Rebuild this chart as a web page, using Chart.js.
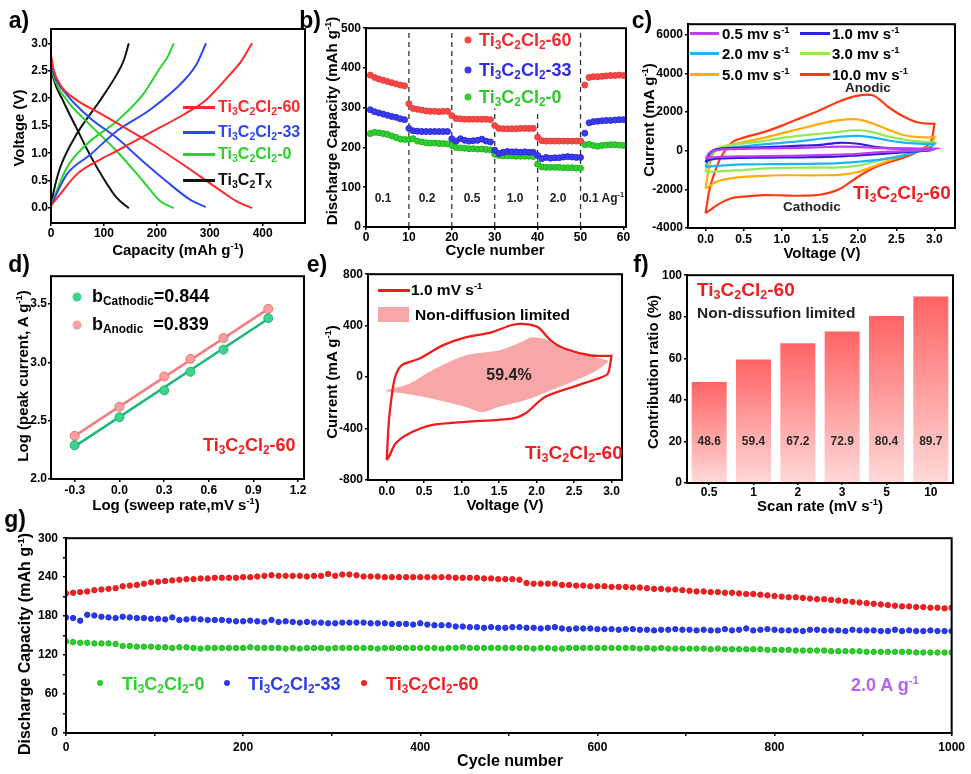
<!DOCTYPE html>
<html>
<head>
<meta charset="utf-8">
<script src="https://cdn.jsdelivr.net/npm/chart.js@4.4.1/dist/chart.umd.min.js"></script>
<style>
body{margin:0;background:#fff;width:971px;height:774px;position:relative;overflow:hidden;font-family:"Liberation Sans",Arial,sans-serif;font-weight:bold;color:#000;}
canvas{position:absolute;}
.l{position:absolute;white-space:nowrap;line-height:1;transform:translateY(-50%);}
.c{position:absolute;white-space:nowrap;line-height:1;transform:translate(-50%,-50%);}
.yt{position:absolute;white-space:nowrap;line-height:1;transform:translate(-50%,-50%) rotate(-90deg);font-size:15px;}
.xt{position:absolute;white-space:nowrap;line-height:1;transform:translate(-50%,-50%);font-size:15px;}
.pl{position:absolute;white-space:nowrap;line-height:1;transform:translate(-50%,-50%);font-size:23px;}
.ln{position:absolute;height:2.5px;}
.dot{position:absolute;border-radius:50%;transform:translate(-50%,-50%);}
sub{font-size:66%;vertical-align:-0.28em;line-height:0;}
sup{font-size:62%;vertical-align:0.62em;line-height:0;}
</style>
</head>
<body>
<script>
// ---------- a) charge / discharge curves ----------
const cap60d = [0, 5, 17, 48, 92, 124, 187, 250, 313, 350, 380];
const volt60d = [2.79, 2.52, 2.25, 1.97, 1.73, 1.55, 1.19, 0.79, 0.37, 0.13, 0.0];
const cap60c = [0, 17, 48, 92, 124, 187, 250, 293, 338, 360, 380];
const volt60c = [0.05, 0.25, 0.61, 0.88, 1.04, 1.37, 1.70, 1.97, 2.43, 2.68, 3.0];
const cap33d = [0, 5, 29.5, 73.6, 124, 174, 218, 262, 292];
const volt33d = [2.67, 2.45, 2.07, 1.64, 1.28, 0.85, 0.49, 0.16, 0.02];
const cap33c = [0, 29.5, 74, 124, 187, 250, 275, 293];
const volt33c = [0.05, 0.61, 0.97, 1.40, 1.79, 2.31, 2.62, 3.0];
const cap0d = [0, 5, 29.5, 67, 124, 174, 206, 232];
const volt0d = [2.64, 2.40, 1.97, 1.58, 1.04, 0.49, 0.13, 0.0];
const cap0c = [0, 29.5, 67, 124, 174, 206, 222, 232];
const volt0c = [0.05, 0.73, 1.16, 1.58, 2.07, 2.55, 2.78, 3.0];
const capTd = [0, 5, 23, 48, 73.6, 98.7, 124, 147];
const voltTd = [2.60, 2.35, 1.95, 1.46, 0.97, 0.55, 0.19, 0.0];
const capTc = [0, 5, 17, 48, 92, 124, 138, 147];
const voltTc = [0.05, 0.30, 0.73, 1.34, 1.95, 2.43, 2.70, 3.0];
const aCapTicks = [0, 100, 200, 300, 400];
const aVoltTicks = [0, 0.5, 1.0, 1.5, 2.0, 2.5, 3.0];

// ---------- b) rate performance ----------
const rateCycles = Array.from({length: 60}, (_, i) => i + 1);
const rate60 = [382,376,372,369,366,363,360,357,355, 310, 298,296,294,292,291,291,290,291,291, 280,
  273,272,271,271,271,271,271,271,270, 255, 248,247,247,247,247,248,248,248,248, 226,
  217,216,216,216,216,216,216,216,216, 216, 357, 376,378,378,379,380,381,381,382,381];
const rate33 = [295,290,287,284,281,278,276,272,270, 248, 242,241,240,240,240,240,240,240,240, 222,
  216,222,218,216,217,218,221,216,214, 193, 185,188,190,189,189,188,189,188,188, 180,
  172,175,173,174,174,176,177,176,175, 175, 236, 262,265,266,267,268,268,269,270,270];
const rate0 = [235,238,237,235,233,229,225,221,220, 220, 222,216,214,212,211,211,210,210,209, 205,
  200,199,198,197,197,196,196,195,194, 183, 180,179,179,179,178,178,178,178,177, 158,
  151,150,150,150,150,149,149,149,148, 148, 207, 208,205,203,205,206,207,207,206,205];
const rateBreaks = [10, 20, 30, 40, 50];
const rateBreakTop = [500, 500, 298, 292, 500];
const bCycleTicks = [0, 10, 20, 30, 40, 50, 60];
const bCapTicks = [0, 100, 200, 300, 400, 500];

// ---------- c) CV at different scan rates ----------
const cvUpV = [0, 0.05, 0.1, 0.2, 0.35, 0.5, 0.75, 1.0, 1.25, 1.5, 1.75, 2.0, 2.2, 2.4, 2.6, 2.8, 3.0];
const cvDnV = [3.0, 2.95, 2.8, 2.6, 2.4, 2.2, 2.0, 1.75, 1.5, 1.25, 1.0, 0.75, 0.5, 0.35, 0.2, 0.1, 0.05, 0];
const cv10Up = [-3230,-2050,-1350,-350,440,680,950,1300,1700,2100,2550,2850,2860,2250,1760,1450,1390];
const cv10Dn = [1390,440,0,-350,-600,-900,-1350,-2000,-2280,-2330,-2310,-2300,-2380,-2450,-2700,-2950,-3100,-3230];
const cv5Up = [-1950,-800,-150,150,330,450,650,900,1150,1390,1580,1620,1400,1080,800,700,700];
const cv5Dn = [700,200,20,-230,-520,-820,-1100,-1250,-1270,-1270,-1270,-1300,-1350,-1420,-1530,-1700,-1830,-1950];
const cv3Up = [-1100,-330,-50,200,300,380,500,670,780,880,980,1070,950,730,580,480,440];
const cv3Dn = [440,250,20,-200,-380,-580,-770,-860,-870,-880,-890,-930,-1000,-1030,-1060,-1080,-1090,-1100];
const cv2Up = [-840,-300,-50,100,170,230,330,410,500,620,720,770,680,530,420,370,350];
const cv2Dn = [350,180,-20,-250,-400,-500,-570,-640,-670,-680,-690,-700,-710,-730,-770,-800,-820,-840];
const cv1Up = [-590,-150,30,110,140,150,180,215,260,300,410,360,220,130,110,100,100];
const cv1Dn = [100,15,-20,-80,-140,-190,-240,-300,-330,-340,-350,-355,-365,-380,-400,-430,-480,-590];
const cv05Up = [-410,-100,-10,60,85,95,115,130,150,180,215,200,150,120,105,95,90];
const cv05Dn = [90,40,10,-20,-50,-100,-160,-200,-230,-250,-270,-280,-290,-300,-320,-340,-360,-410];
const voltTicks = [0, 0.5, 1.0, 1.5, 2.0, 2.5, 3.0];
const cCurrentTicks = [-4000, -2000, 0, 2000, 4000, 6000];

// ---------- d) b-value fitting ----------
const logRate = [-0.301, 0, 0.301, 0.477, 0.699, 1.0];
const logCathodic = [2.29, 2.53, 2.76, 2.92, 3.11, 3.38];
const logAnodic = [2.37, 2.62, 2.88, 3.03, 3.21, 3.46];
const fitX = [-0.3, 1.0];
const fitCathodic = [2.28, 3.375];
const fitAnodic = [2.37, 3.46];
const dRateTicks = [-0.3, 0, 0.3, 0.6, 0.9, 1.2];
const dCurrentTicks = [2.0, 2.5, 3.0, 3.5];

// ---------- e) capacitive contribution at 1 mV/s ----------
const eUpV = [0, 0.03, 0.1, 0.16, 0.23, 0.43, 0.74, 1.05, 1.40, 1.67, 1.85, 2.02, 2.19, 2.38, 2.73, 3.0];
const eUpI = [-645, -335, -25, 65, 103, 142, 245, 309, 348, 405, 412, 387, 284, 219, 168, 165];
const eDnV = [3.0, 2.95, 2.81, 2.55, 2.11, 1.85, 1.67, 1.05, 0.6, 0.3, 0.12, 0.03, 0];
const eDnI = [165, 26, -13, -64, -155, -283, -322, -348, -373, -438, -515, -618, -645];
const capUpV = [-0.01, 0.3, 0.6, 1.05, 1.49, 1.79, 1.93, 2.11, 2.38, 2.81, 2.95];
const capUpI = [-103, -52, 52, 168, 206, 271, 309, 296, 206, 150, 129];
const capDnV = [2.95, 2.72, 2.19, 1.85, 1.49, 1.27, 1.05, 0.6, 0.25, -0.01];
const capDnI = [116, 26, -103, -180, -232, -271, -232, -167, -129, -110];
const eCurrentTicks = [-800, -400, 0, 400, 800];

// ---------- f) contribution ratio ----------
const scanRates = ['0.5', '1', '2', '3', '5', '10'];
const contribution = [48.6, 59.4, 67.2, 72.9, 80.4, 89.7];
const fRatioTicks = [0, 20, 40, 60, 80, 100];

// ---------- g) long cycling at 2 A/g ----------
const cycleNo = [];
for (let c = 0; c <= 1000; c += 8) cycleNo.push(c);
const long60 = [215,216,217,218,220,221,222,223,226,227, 228,230,232,233,234,235,236,237,237,238,
  238,239,239,239,239,240,240,241,242,243, 242,242,242,242,241,242,242,245,242,244,
  244,243,241,241,241,240,240,240,240,240, 240,240,240,240,240,239,239,239,239,238,
  238,237,237,237,236,231,230,230,230,230, 228,228,227,227,226,226,226,225,225,225,
  224,224,223,222,222,221,221,220,219,218, 218,217,217,216,216,215,214,214,213,212,
  211,210,209,209,208,207,206,206,205,204, 203,202,201,200,199,198,197,196,195,195,
  194,194,193,193,192,193];
const long33 = [178,177,173,182,181,179,178,177,179,178, 177,177,176,176,175,178,174,175,176,175,
  174,174,174,173,172,172,173,172,171,174, 171,172,171,170,171,170,170,169,169,170,
  170,170,170,169,169,169,168,168,168,167, 169,167,166,166,166,164,164,163,163,162,
  163,162,162,163,163,162,162,161,162,163, 161,160,161,161,161,160,160,160,159,160,
  160,159,159,158,159,159,160,159,159,158, 159,158,158,160,158,159,161,158,159,160,
  159,158,158,158,157,159,159,158,158,158, 157,159,158,158,158,157,157,159,157,158,
  157,157,158,157,157,157];
const long0 = [141,140,139,139,138,138,138,137,134,134, 133,133,133,132,132,131,132,132,131,130,
  131,131,131,131,131,131,132,131,131,131, 131,130,131,130,131,131,131,130,131,131,
  131,131,131,131,130,131,131,131,131,131, 131,131,131,130,131,131,132,131,131,131,
  131,131,131,131,131,131,130,131,131,130, 130,131,131,131,131,131,131,131,131,131,
  131,130,131,130,131,130,130,130,130,130, 130,129,130,129,129,129,129,129,129,128,
  128,128,128,127,127,127,127,127,126,126, 126,126,126,125,125,125,125,125,125,125,
  124,124,124,124,124,124];
const gCycleTicks = [0, 100, 200, 300, 400, 500, 600, 700, 800, 900, 1000];
const gCapTicks = [0, 30, 60, 90, 120, 150, 180, 210, 240, 270, 300];

// ---------- helpers ----------
Chart.defaults.font.family = '"Liberation Sans", Arial, sans-serif';
Chart.defaults.font.weight = 'bold';
Chart.defaults.font.size = 12;
Chart.defaults.color = '#000';

// black box round the plot area
Chart.register({
  id: 'frame',
  afterDraw(chart) {
    const {ctx, chartArea: a} = chart;
    ctx.save();
    ctx.strokeStyle = '#000';
    ctx.lineWidth = 2;
    ctx.strokeRect(a.left, a.top, a.right - a.left, a.bottom - a.top);
    ctx.restore();
  }
});

const pts = (xs, ys) => xs.map((x, i) => ({x: x, y: ys[i]}));
const fix1 = v => v.toFixed(1);

function axis(pos, min, max, tickVals, fmt, pad) {
  return {
    type: 'linear', position: pos, min: min, max: max,
    ticks: {padding: pad || 0, color: '#000', font: {size: 12, weight: 'bold'}, callback: fmt},
    afterBuildTicks: s => { s.ticks = tickVals.map(v => ({value: v})); },
    grid: {display: true, drawOnChartArea: false, drawTicks: true, tickLength: 3, color: '#000', lineWidth: 1.5},
    border: {display: true, color: '#000', width: 2},
    afterFit: s => { if (pos === 'left') s.width = 45; else s.height = 20; }
  };
}

function panel(rect, config) {
  const [L, T, R, B] = rect;
  const cv = document.createElement('canvas');
  const w = R - L + 45 + 16, h = B - T + 8 + 20;
  cv.width = w; cv.height = h;
  cv.style.left = (L - 45) + 'px';
  cv.style.top = (T - 8) + 'px';
  cv.style.width = w + 'px';
  cv.style.height = h + 'px';
  document.body.appendChild(cv);
  config.options = Object.assign({
    responsive: false, animation: false,
    layout: {padding: {top: 8, right: 16, left: 0, bottom: 0}},
    plugins: {legend: {display: false}, tooltip: {enabled: false}}
  }, config.options);
  return new Chart(cv, config);
}

function curve(data, color, width, extra) {
  return Object.assign({data: data, showLine: true, borderColor: color, borderWidth: width, pointRadius: 0, tension: 0.3}, extra || {});
}
function dots(data, color, r, border) {
  return {data: data, showLine: false, backgroundColor: color, borderColor: border || color, borderWidth: 1, pointRadius: r};
}

// a)
const cRed = '#ff2727', cBlue = '#2a49f2', cGreen = '#2cd22c';
const mono = {cubicInterpolationMode: 'monotone'};
panel([51, 29, 305, 223], {
  type: 'scatter',
  data: {datasets: [
    curve(pts(cap60d, volt60d), cRed, 2, mono), curve(pts(cap60c, volt60c), cRed, 2, mono),
    curve(pts(cap33d, volt33d), cBlue, 2, mono), curve(pts(cap33c, volt33c), cBlue, 2, mono),
    curve(pts(cap0d, volt0d), cGreen, 2, mono), curve(pts(cap0c, volt0c), cGreen, 2, mono),
    curve(pts(capTd, voltTd), '#111', 2, mono), curve(pts(capTc, voltTc), '#111', 2, mono)
  ]},
  options: {scales: {x: axis('bottom', 0, 480, aCapTicks, v => v), y: axis('left', -0.27, 3.26, aVoltTicks, fix1)}}
});

// b)
const breakSets = rateBreaks.map((x, i) => ({
  data: [{x: x, y: 0}, {x: x, y: rateBreakTop[i]}], showLine: true, borderColor: '#333',
  borderWidth: 1.3, borderDash: [5, 4], pointRadius: 0
}));
panel([366, 27, 626, 227], {
  type: 'scatter',
  data: {datasets: [
    dots(pts(rateCycles, rate60), '#f74848', 3, '#e83a3a'),
    dots(pts(rateCycles, rate33), '#3a3af0', 3, '#2c2cd8'),
    dots(pts(rateCycles, rate0), '#2fcf2f', 3, '#22b422')
  ].concat(breakSets)},
  options: {scales: {x: axis('bottom', 0, 60.6, bCycleTicks, v => v), y: axis('left', 0, 500, bCapTicks, v => v, 2)}}
});

// c)
const loop = (up, dn) => pts(cvUpV, up).concat(pts(cvDnV, dn));
panel([688, 23, 955, 228], {
  type: 'scatter',
  data: {datasets: [
    curve(loop(cv05Up, cv05Dn), '#c43cf2', 2.2),
    curve(loop(cv1Up, cv1Dn), '#2b1fdc', 2.2),
    curve(loop(cv2Up, cv2Dn), '#1fb4f7', 2.2),
    curve(loop(cv3Up, cv3Dn), '#94ea52', 2.2),
    curve(loop(cv5Up, cv5Dn), '#ffad0a', 2.2),
    curve(loop(cv10Up, cv10Dn), '#ff3a12', 2.2)
  ]},
  options: {scales: {x: axis('bottom', -0.23, 3.27, voltTicks, fix1, 1), y: axis('left', -4000, 6550, cCurrentTicks, v => v, 2)}}
});

// d)
panel([51, 276, 304, 479], {
  type: 'scatter',
  data: {datasets: [
    dots(pts(logRate, logCathodic), '#3fd392', 4.5, '#20b574'),
    dots(pts(logRate, logAnodic), '#f8a0a0', 4.5, '#ee7070'),
    curve(pts(fitX, fitCathodic), '#1cba76', 2.5, {tension: 0}),
    curve(pts(fitX, fitAnodic), '#f27e7e', 2.5, {tension: 0})
  ]},
  options: {scales: {x: axis('bottom', -0.46, 1.24, dRateTicks, fix1, 1), y: axis('left', 2.0, 3.74, dCurrentTicks, fix1, 1)}}
});

// e)
panel([368, 273, 622, 480], {
  type: 'scatter',
  data: {datasets: [
    curve(pts(eUpV, eUpI).concat(pts(eDnV, eDnI)), '#ee1c1c', 2.3, {order: 0, tension: 0.25}),
    curve(pts(capUpV, capUpI).concat(pts(capDnV, capDnI)), 'rgba(0,0,0,0)', 0,
      {order: 1, fill: 'shape', backgroundColor: '#f7a7a7', tension: 0.3})
  ]},
  options: {scales: {x: axis('bottom', -0.25, 3.14, voltTicks, fix1, 1), y: axis('left', -800, 800, eCurrentTicks, v => v, 2)}}
});

// f)
const barLabels = {
  id: 'barLabels',
  afterDatasetsDraw(chart) {
    const ctx = chart.ctx, y20 = chart.scales.y.getPixelForValue(20);
    ctx.save();
    ctx.font = 'bold 12px "Liberation Sans", Arial, sans-serif';
    ctx.fillStyle = '#2a2a2a';
    ctx.textAlign = 'center';
    ctx.textBaseline = 'middle';
    chart.getDatasetMeta(0).data.forEach((bar, i) => ctx.fillText(contribution[i].toFixed(1), bar.x, y20));
    ctx.restore();
  }
};
panel([687, 274, 953, 483], {
  type: 'bar',
  data: {labels: scanRates, datasets: [{
    data: contribution, barPercentage: 0.79, categoryPercentage: 1,
    backgroundColor: c => {
      const ch = c.chart;
      if (!ch.chartArea || c.raw === undefined) return '#ff9a9a';
      const ys = ch.scales.y;
      const g = ch.ctx.createLinearGradient(0, ys.getPixelForValue(c.raw), 0, ys.getPixelForValue(0));
      g.addColorStop(0, '#ff6464');
      g.addColorStop(1, '#ffd9d9');
      return g;
    }
  }]},
  options: {scales: {
    x: {type: 'category', ticks: {padding: 0, color: '#000', font: {size: 12, weight: 'bold'}},
        grid: {display: true, drawOnChartArea: false, offset: false, tickLength: 2, color: '#000', lineWidth: 1.5},
        border: {display: true, color: '#000', width: 2}, afterFit: s => { s.height = 20; }},
    y: axis('left', 0, 100, fRatioTicks, v => v, 2)
  }},
  plugins: [barLabels]
});

// g)
panel([66, 534, 953, 733], {
  type: 'scatter',
  data: {datasets: [
    dots(pts(cycleNo, long60), '#f22020', 2.7, '#e01a1a'),
    dots(pts(cycleNo, long33), '#2a3af0', 2.7, '#2030d8'),
    dots(pts(cycleNo, long0), '#27d127', 2.7, '#1eb81e')
  ]},
  options: {scales: {
    x: axis('bottom', 0, 1000, gCycleTicks, v => (v % 200 === 0 ? v : ''), 4),
    y: axis('left', 0, 300, gCapTicks, v => (v % 60 === 0 ? v : ''), 5)
  }}
});
</script>

<!-- panel letters -->
<div class="pl" style="left:19px;top:20px">a)</div>
<div class="pl" style="left:310px;top:20px">b)</div>
<div class="pl" style="left:642px;top:20px">c)</div>
<div class="pl" style="left:19px;top:264px">d)</div>
<div class="pl" style="left:317px;top:264px">e)</div>
<div class="pl" style="left:641px;top:264px">f)</div>
<div class="pl" style="left:15px;top:519px">g)</div>

<!-- axis titles -->
<div class="yt" style="left:18px;top:128px">Voltage (V)</div>
<div class="xt" style="left:178px;top:249px">Capacity (mAh g<sup>-1</sup>)</div>
<div class="yt" style="left:331px;top:121px">Discharge Capacity (mAh g<sup>-1</sup>)</div>
<div class="xt" style="left:495px;top:249px">Cycle number</div>
<div class="yt" style="left:648px;top:120px">Current (mA g<sup>-1</sup>)</div>
<div class="xt" style="left:822px;top:252px">Voltage (V)</div>
<div class="yt" style="left:22px;top:376px">Log (peak current, A g<sup>-1</sup>)</div>
<div class="xt" style="left:176px;top:504px">Log (sweep rate,mV s<sup>-1</sup>)</div>
<div class="yt" style="left:331px;top:382px">Current (mA g<sup>-1</sup>)</div>
<div class="xt" style="left:505px;top:504px">Voltage (V)</div>
<div class="yt" style="left:652px;top:372px">Contribution ratio (%)</div>
<div class="xt" style="left:820px;top:505px">Scan rate (mV s<sup>-1</sup>)</div>
<div class="yt" style="left:25px;top:644px;font-size:16px">Discharge Capacity (mAh g<sup>-1</sup>)</div>
<div class="xt" style="left:510px;top:761px;font-size:16px">Cycle number</div>

<!-- a) legend -->
<div class="ln" style="left:183px;top:106px;width:32px;background:#ff2727"></div>
<div class="l" style="left:218px;top:107px;font-size:16px;color:#ff2727">Ti<sub>3</sub>C<sub>2</sub>Cl<sub>2</sub>-60</div>
<div class="ln" style="left:183px;top:131px;width:32px;background:#2a49f2"></div>
<div class="l" style="left:218px;top:132px;font-size:16px;color:#2a49f2">Ti<sub>3</sub>C<sub>2</sub>Cl<sub>2</sub>-33</div>
<div class="ln" style="left:183px;top:153px;width:32px;background:#2cd22c"></div>
<div class="l" style="left:218px;top:154px;font-size:16px;color:#2cd22c">Ti<sub>3</sub>C<sub>2</sub>Cl<sub>2</sub>-0</div>
<div class="ln" style="left:183px;top:179px;width:32px;background:#111"></div>
<div class="l" style="left:218px;top:180px;font-size:16px;color:#111">Ti<sub>3</sub>C<sub>2</sub>T<sub>X</sub></div>

<!-- b) legend and rate labels -->
<div class="dot" style="left:468px;top:40px;width:7px;height:7px;background:#f74848"></div>
<div class="l" style="left:479px;top:40px;font-size:18px;color:#f22a2a">Ti<sub>3</sub>C<sub>2</sub>Cl<sub>2</sub>-60</div>
<div class="dot" style="left:468px;top:70px;width:7px;height:7px;background:#3a3af0"></div>
<div class="l" style="left:479px;top:70px;font-size:18px;color:#2c2ce8">Ti<sub>3</sub>C<sub>2</sub>Cl<sub>2</sub>-33</div>
<div class="dot" style="left:468px;top:97px;width:7px;height:7px;background:#2fcf2f"></div>
<div class="l" style="left:479px;top:97px;font-size:18px;color:#2cc82c">Ti<sub>3</sub>C<sub>2</sub>Cl<sub>2</sub>-0</div>
<div class="c" style="left:383px;top:198px;font-size:12px;color:#222">0.1</div>
<div class="c" style="left:427px;top:198px;font-size:12px;color:#222">0.2</div>
<div class="c" style="left:472px;top:198px;font-size:12px;color:#222">0.5</div>
<div class="c" style="left:515px;top:198px;font-size:12px;color:#222">1.0</div>
<div class="c" style="left:558px;top:198px;font-size:12px;color:#222">2.0</div>
<div class="c" style="left:603px;top:198px;font-size:12px;color:#222">0.1 Ag<sup>-1</sup></div>

<!-- c) legend and notes -->
<div class="ln" style="left:690px;top:32px;width:29px;background:#c43cf2"></div>
<div class="l" style="left:722px;top:33px;font-size:15px">0.5 mv s<sup>-1</sup></div>
<div class="ln" style="left:800px;top:32px;width:30px;background:#2b1fdc"></div>
<div class="l" style="left:832px;top:33px;font-size:15px">1.0 mv s<sup>-1</sup></div>
<div class="ln" style="left:690px;top:52px;width:29px;background:#1fb4f7"></div>
<div class="l" style="left:722px;top:53px;font-size:15px">2.0 mv s<sup>-1</sup></div>
<div class="ln" style="left:800px;top:52px;width:30px;background:#94ea52"></div>
<div class="l" style="left:832px;top:53px;font-size:15px">3.0 mv s<sup>-1</sup></div>
<div class="ln" style="left:690px;top:73px;width:29px;background:#ffad0a"></div>
<div class="l" style="left:722px;top:74px;font-size:15px">5.0 mv s<sup>-1</sup></div>
<div class="ln" style="left:800px;top:73px;width:30px;background:#ff3a12"></div>
<div class="l" style="left:832px;top:74px;font-size:15px">10.0 mv s<sup>-1</sup></div>
<div class="l" style="left:845px;top:88px;font-size:13.5px;color:#222">Anodic</div>
<div class="l" style="left:783px;top:207px;font-size:13.5px;color:#222">Cathodic</div>
<div class="l" style="left:853px;top:192px;font-size:19px;color:#f01e1e">Ti<sub>3</sub>C<sub>2</sub>Cl<sub>2</sub>-60</div>

<!-- d) legend and note -->
<div class="dot" style="left:77px;top:297px;width:9px;height:9px;background:#3fd392"></div>
<div class="l" style="left:92px;top:296px;font-size:18px">b<sub>Cathodic</sub>=0.844</div>
<div class="dot" style="left:77px;top:325px;width:9px;height:9px;background:#f8a0a0"></div>
<div class="l" style="left:92px;top:324px;font-size:18px">b<sub>Anodic</sub>&nbsp; =0.839</div>
<div class="l" style="left:203px;top:445px;font-size:18px;color:#f01e1e">Ti<sub>3</sub>C<sub>2</sub>Cl<sub>2</sub>-60</div>

<!-- e) legend and notes -->
<div class="ln" style="left:378px;top:289px;width:32px;background:#ee1c1c"></div>
<div class="l" style="left:411px;top:290px;font-size:15.5px">1.0 mV s<sup>-1</sup></div>
<div style="position:absolute;left:378px;top:307px;width:31px;height:15px;background:#f7a7a7"></div>
<div class="l" style="left:415px;top:315px;font-size:15.5px">Non-diffusion limited</div>
<div class="c" style="left:509px;top:375px;font-size:16px;color:#222">59.4%</div>
<div class="l" style="left:525px;top:452px;font-size:19px;color:#f01e1e">Ti<sub>3</sub>C<sub>2</sub>Cl<sub>2</sub>-60</div>

<!-- f) notes -->
<div class="l" style="left:697px;top:289px;font-size:19px;color:#f01e1e">Ti<sub>3</sub>C<sub>2</sub>Cl<sub>2</sub>-60</div>
<div class="l" style="left:697px;top:313px;font-size:15.5px;color:#222">Non-dissufion limited</div>

<!-- g) legend and note -->
<div class="dot" style="left:100px;top:683px;width:6px;height:6px;background:#27d127"></div>
<div class="l" style="left:122px;top:684px;font-size:18px;color:#2cd22c">Ti<sub>3</sub>C<sub>2</sub>Cl<sub>2</sub>-0</div>
<div class="dot" style="left:227px;top:683px;width:6px;height:6px;background:#2a3af0"></div>
<div class="l" style="left:248px;top:684px;font-size:18px;color:#2c3ce8">Ti<sub>3</sub>C<sub>2</sub>Cl<sub>2</sub>-33</div>
<div class="dot" style="left:364px;top:683px;width:6px;height:6px;background:#f22020"></div>
<div class="l" style="left:386px;top:684px;font-size:18px;color:#f02020">Ti<sub>3</sub>C<sub>2</sub>Cl<sub>2</sub>-60</div>
<div class="l" style="left:851px;top:685px;font-size:18px;color:#b862f0">2.0 A g<sup>-1</sup></div>
</body>
</html>
